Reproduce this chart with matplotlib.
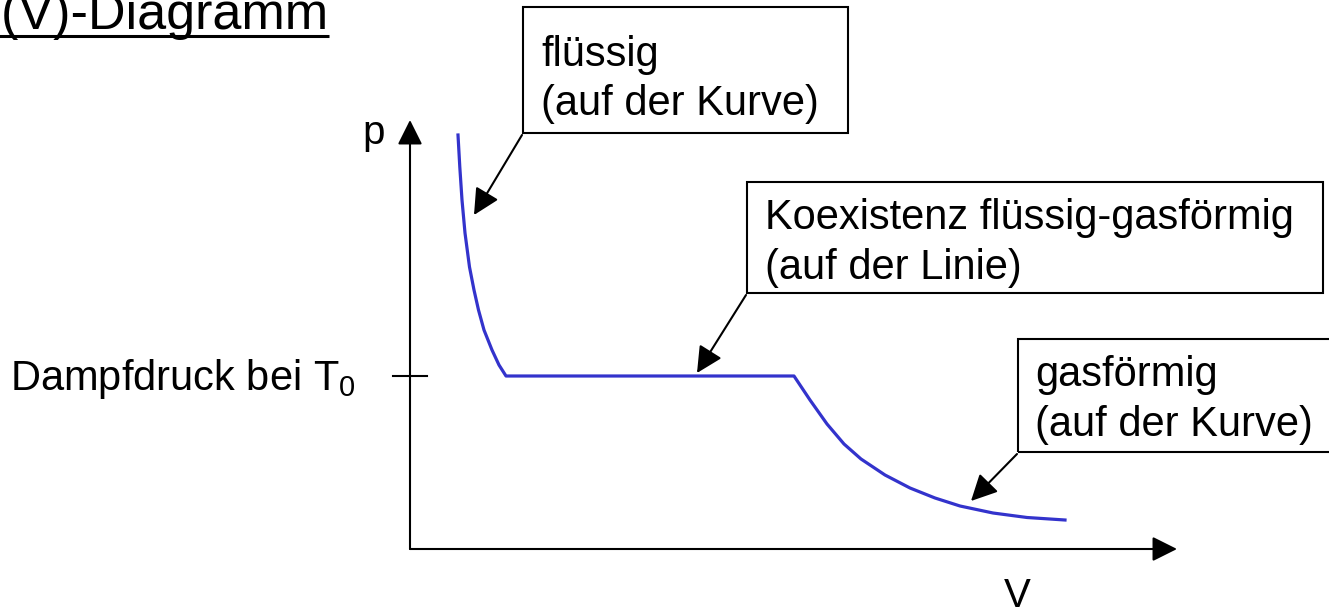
## p(V)-Diagramm: Dampfdruck bei T0

import matplotlib
matplotlib.use('Agg')
import matplotlib.pyplot as plt
from matplotlib.patches import Rectangle

plt.rcParams['font.family'] = ['Liberation Sans', 'DejaVu Sans']
plt.rcParams['mathtext.fontset'] = 'custom'
plt.rcParams['mathtext.rm'] = 'Liberation Sans'

# Isotherme (V and p in arbitrary units)
V_curve = [48, 49.8, 52, 55, 59.5, 64, 68.5, 74, 82, 89, 96,
           384, 400, 417, 434, 451, 475, 500, 525, 550, 583, 617, 655]
p_curve = [414, 382, 349, 316, 282, 259, 239, 219, 199, 184, 173,
           173, 149, 125, 105, 90, 74, 61, 51, 43, 36, 31.5, 29]
p_dampf = 173

# Labels with box and arrow target
box_lines = [['flüssig', '(auf der Kurve)'],
             ['Koexistenz flüssig-gasförmig', '(auf der Linie)'],
             ['gasförmig', '(auf der Kurve)']]
arrow_tips = [(64, 334), (287, 176), (561, 48)]

# layout (same units)
box_edges = [(113, 416, 325, 126), (337, 256, 576, 111), (608, 97, 330, 113)]
text_pos = [(131, 483, 434), (355, 320, 270), (625, 163, 113)]

fig = plt.figure(figsize=(13.29, 6.14), dpi=100)
ax = fig.add_axes([0, 0, 1, 1])
ax.set_xlim(-410, 919)
ax.set_ylim(-65, 549)
ax.axis('off')

# axes with arrows
ax.annotate('', xy=(0, 429), xytext=(0, 0),
            arrowprops=dict(arrowstyle='-|>,head_length=0.4,head_width=0.2',
                            mutation_scale=38, lw=1.5, color='black',
                            shrinkA=0, shrinkB=0))
ax.annotate('', xy=(767, 0), xytext=(0, 0),
            arrowprops=dict(arrowstyle='-|>,head_length=0.4,head_width=0.2',
                            mutation_scale=38, lw=1.5, color='black',
                            shrinkA=0, shrinkB=0))
ax.plot([-17, 17], [p_dampf, p_dampf], color='black', lw=1.5)

ax.text(-36, 405, 'p', fontsize=29, ha='center', va='baseline')
ax.text(607, -58, 'V', fontsize=29, ha='center', va='baseline')
ax.text(-400, 159, 'Dampfdruck bei T$_0$', fontsize=30, ha='left', va='baseline')

# curve
ax.plot(V_curve, p_curve, color='#3333cc', lw=2.3, solid_joinstyle='round')

# boxes, texts, arrows
for i in range(3):
    x0, y0, w, h = box_edges[i]
    ax.add_patch(Rectangle((x0, y0), w, h, fill=False, edgecolor='black',
                           lw=1.5, clip_on=False))
    tx, ty1, ty2 = text_pos[i]
    ax.text(tx, ty1, box_lines[i][0], fontsize=30, ha='left', va='baseline')
    ax.text(tx, ty2, box_lines[i][1], fontsize=30, ha='left', va='baseline')
    ax.annotate('', xy=arrow_tips[i], xytext=(x0 - 1, y0 - 2),
                arrowprops=dict(arrowstyle='-|>,head_length=0.4,head_width=0.2',
                                mutation_scale=40, lw=1.5, color='black',
                                shrinkA=0, shrinkB=0))

# title (cut at the edge like in the slide)
ax.text(-81, 520, 'p(V)-Diagramm', fontsize=37.5, ha='right', va='baseline')
ax.plot([-412, -81], [513, 513], color='black', lw=2.2, solid_capstyle='butt')

plt.savefig('out.png', dpi=100)
